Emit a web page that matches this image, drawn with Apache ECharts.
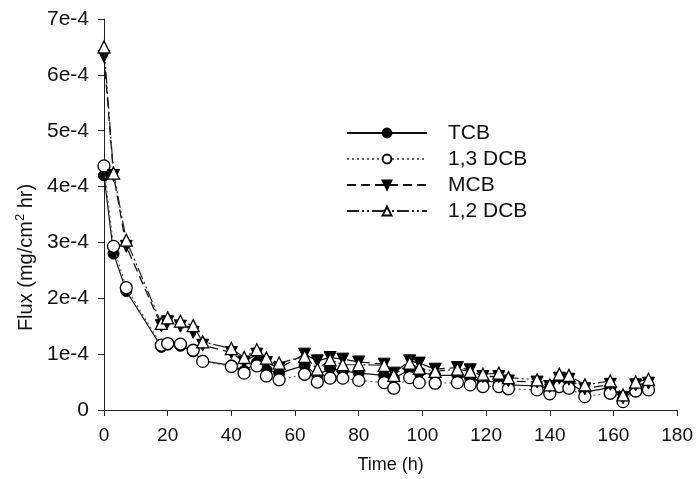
<!DOCTYPE html>
<html>
<head>
<meta charset="utf-8">
<script src="https://cdn.jsdelivr.net/npm/echarts@6/dist/echarts.min.js"></script>
<style>
html,body{margin:0;padding:0;background:#fff;}
#chart{width:696px;height:479px;}
</style>
</head>
<body>
<div id="chart"></div>
<script>
// ---- data (Flux in mg/cm2 hr) ----
var time = [0,3,7,18,20,24,28,31,40,44,48,51,55,63,67,71,75,80,88,91,96,99,104,111,115,119,124,127,136,140,143,146,151,159,163,167,171];
var tcb = [4.20e-4,2.80e-4,2.13e-4,1.13e-4,1.17e-4,1.15e-4,1.05e-4,0.88e-4,0.80e-4,0.70e-4,0.85e-4,0.72e-4,0.66e-4,0.80e-4,0.62e-4,0.75e-4,0.70e-4,0.66e-4,0.62e-4,0.57e-4,0.72e-4,0.68e-4,0.62e-4,0.62e-4,0.57e-4,0.52e-4,0.50e-4,0.45e-4,0.43e-4,0.38e-4,0.50e-4,0.48e-4,0.32e-4,0.40e-4,0.18e-4,0.40e-4,0.43e-4];
var dcb13 = [4.37e-4,2.93e-4,2.19e-4,1.16e-4,1.19e-4,1.18e-4,1.07e-4,0.87e-4,0.78e-4,0.66e-4,0.79e-4,0.61e-4,0.54e-4,0.64e-4,0.50e-4,0.57e-4,0.57e-4,0.53e-4,0.49e-4,0.39e-4,0.58e-4,0.49e-4,0.48e-4,0.49e-4,0.45e-4,0.42e-4,0.42e-4,0.38e-4,0.36e-4,0.29e-4,0.42e-4,0.39e-4,0.24e-4,0.30e-4,0.15e-4,0.34e-4,0.36e-4];
var mcb = [6.33e-4,4.20e-4,2.93e-4,1.51e-4,1.58e-4,1.50e-4,1.39e-4,1.16e-4,1.03e-4,0.86e-4,1.00e-4,0.85e-4,0.75e-4,1.00e-4,0.88e-4,0.94e-4,0.91e-4,0.86e-4,0.82e-4,0.66e-4,0.88e-4,0.84e-4,0.73e-4,0.76e-4,0.72e-4,0.60e-4,0.60e-4,0.52e-4,0.50e-4,0.42e-4,0.57e-4,0.55e-4,0.38e-4,0.46e-4,0.22e-4,0.45e-4,0.48e-4];
var dcb12 = [6.50e-4,4.24e-4,3.04e-4,1.55e-4,1.65e-4,1.59e-4,1.51e-4,1.22e-4,1.10e-4,0.94e-4,1.08e-4,0.93e-4,0.84e-4,0.96e-4,0.73e-4,0.90e-4,0.81e-4,0.81e-4,0.80e-4,0.62e-4,0.84e-4,0.75e-4,0.69e-4,0.73e-4,0.69e-4,0.64e-4,0.66e-4,0.58e-4,0.54e-4,0.45e-4,0.64e-4,0.62e-4,0.45e-4,0.52e-4,0.27e-4,0.50e-4,0.55e-4];
var seriesNames = ['TCB','1,3 DCB','MCB','1,2 DCB'];
var xTickLabels = ['0','20','40','60','80','100','120','140','160','180'];
var yTickLabels = ['0','1e-4','2e-4','3e-4','4e-4','5e-4','6e-4','7e-4'];

function pairs(ys){ return time.map(function(t,i){ return [t, ys[i]]; }); }

var FONT = 'Liberation Sans, Arial, sans-serif';
var chart = echarts.init(document.getElementById('chart'), null, {renderer:'canvas'});
var axisCol = '#222';

chart.setOption({
  animation:false,
  backgroundColor:'#fff',
  grid:{left:104, right:14, top:19, bottom:67},
  xAxis:{
    type:'value', min:0, max:180, interval:20,
    name:'Time (h)', nameLocation:'middle', nameGap:46,
    nameTextStyle:{fontFamily:FONT, fontSize:18, color:'#111'},
    axisLine:{show:true, onZero:false, lineStyle:{color:axisCol, width:1}},
    axisTick:{show:true, inside:false, length:6, lineStyle:{color:axisCol}},
    axisLabel:{fontFamily:FONT, fontSize:19, color:'#111', margin:16,
      formatter:function(v){ return xTickLabels[Math.round(v/20)]; }},
    splitLine:{show:false}
  },
  yAxis:{
    type:'value', min:0, max:7e-4, interval:1e-4,
    name:'Flux (mg/cm{sup|2} hr)', nameLocation:'middle', nameGap:66, nameRotate:90,
    nameTextStyle:{fontFamily:FONT, fontSize:20, color:'#111', padding:[0,86,0,0],
      rich:{sup:{fontFamily:FONT, fontSize:13, color:'#111', verticalAlign:'bottom', padding:[0,0,11,0]}}},
    axisLine:{show:true, onZero:false, lineStyle:{color:axisCol, width:1}},
    axisTick:{show:true, inside:false, length:6, lineStyle:{color:axisCol}},
    axisLabel:{fontFamily:FONT, fontSize:21, color:'#111', margin:15,
      formatter:function(v){ return yTickLabels[Math.round(v/1e-4)]; }},
    splitLine:{show:false}
  },
  legend:{
    orient:'vertical', left:341, top:116,
    itemWidth:80, itemHeight:11, itemGap:2,
    textStyle:{fontFamily:FONT, fontSize:21, lineHeight:24, color:'#111', padding:[0,0,0,16]},
    data:seriesNames
  },
  series:[
    {name:seriesNames[0], type:'line', data:pairs(tcb), symbol:'circle', symbolSize:11,
     itemStyle:{color:'#000', borderColor:'#000', borderWidth:1},
     lineStyle:{color:'#111', width:1.2, type:'solid'}, z:2},
    {name:seriesNames[1], type:'line', data:pairs(dcb13), symbol:'circle', symbolSize:12,
     itemStyle:{color:'#fff', borderColor:'#000', borderWidth:1.3},
     lineStyle:{color:'#666', width:1.2, type:[2,3]}, z:3},
    {name:seriesNames[2], type:'line', data:pairs(mcb), symbol:'triangle', symbolRotate:180, symbolSize:12,
     itemStyle:{color:'#000', borderColor:'#000', borderWidth:1},
     lineStyle:{color:'#111', width:1.3, type:[9,5]}, z:4},
    {name:seriesNames[3], type:'line', data:pairs(dcb12), symbol:'triangle', symbolSize:12,
     itemStyle:{color:'#fff', borderColor:'#000', borderWidth:1.3},
     lineStyle:{color:'#222', width:1.2, type:[12,3,2,3,2,3]}, z:5}
  ]
});
</script>
</body>
</html>
